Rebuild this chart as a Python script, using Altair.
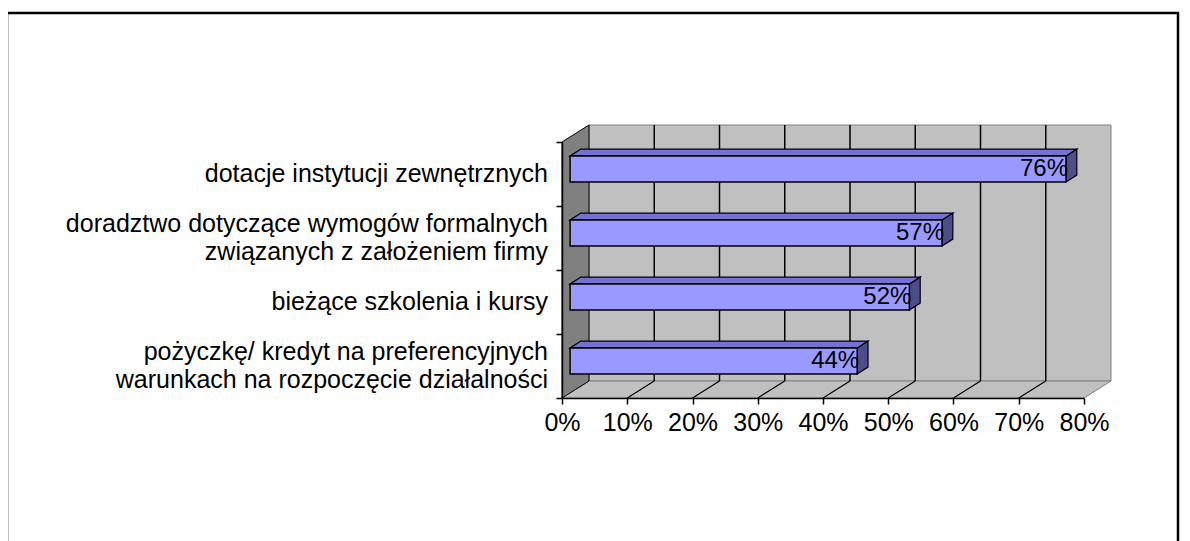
import altair as alt
import pandas as pd

# ---------------- data ----------------
categories = [
    "dotacje instytucji zewnętrznych",
    "doradztwo dotyczące wymogów formalnych\nzwiązanych z założeniem firmy" + "\u00a0" * 10,
    "bieżące szkolenia i kursy\u00a0",
    "pożyczkę/ kredyt na preferencyjnych\u00a0\nwarunkach na rozpoczęcie działalności",
]
values = [0.76, 0.57, 0.52, 0.44]
value_labels = ["76%", "57%", "52%", "44%"]
x_ticks = [0.0, 0.1, 0.2, 0.3, 0.4, 0.5, 0.6, 0.7, 0.8]
y_ticks = [0, 1, 2, 3, 4]

# ---------------- geometry (style constants) ----------------
W, H = 522, 256          # front plot area (px)
XMAX, N = 0.8, len(categories)
DX = 27 / W * XMAX       # depth shift in x data units
DY = 17 / H * N          # depth shift in y data units
F0, F1 = 0.3, 0.7        # bar front / back depth fraction
HALF = 13 / H * N        # half bar thickness (y units)
FONT = "Liberation Sans"
CAT_FS, CAT_LH = 25, 28  # category label font size / line height (px)

xs = alt.Scale(domain=[0, XMAX], nice=False, zero=False)
ys = alt.Scale(domain=[0, N], nice=False, zero=False)

x_axis = alt.Axis(
    values=x_ticks, format=".0%", title=None, grid=False, zindex=2,
    domainColor="black", domainWidth=1.5, tickColor="black", tickWidth=1.5, tickSize=6,
    labelFont=FONT, labelFontSize=25, labelColor="black", labelPadding=6,
    labelFlush=False, labelOverlap=False)
y_axis = alt.Axis(
    values=y_ticks, labels=False, title=None, grid=False, zindex=2,
    domainColor="black", domainWidth=1.5, tickColor="black", tickWidth=1.5, tickSize=6)

# bars
rows_front, rows_top, rows_side, rows_lab = [], [], [], []
for i, (c, v, lab) in enumerate(zip(categories, values, value_labels)):
    idx = N - 1 - i
    yc = idx + 0.5 + F0 * DY
    x0, x1 = F0 * DX, v + F0 * DX
    y0, y1 = yc - HALF, yc + HALF
    ddx, ddy = (F1 - F0) * DX, (F1 - F0) * DY
    nlines = c.count("\n") + 1
    ycat = idx + 0.5 + (nlines - 1) / 2 * CAT_LH / H * N   # centre the text block on the band
    rows_front.append(dict(b=i, x=x0, x2=x1, y=y0, y2=y1))
    rows_top.append(dict(b=i, y=y1, x=x0, x2=x1))
    rows_top.append(dict(b=i, y=y1 + ddy, x=x0 + ddx, x2=x1 + ddx))
    rows_side.append(dict(b=i, x=x1, y=y0, y2=y1))
    rows_side.append(dict(b=i, x=x1 + ddx, y=y0 + ddy, y2=y1 + ddy))
    rows_lab.append(dict(x=x1, y=yc, t=lab, cat=c, yb=ycat))

front = pd.DataFrame(rows_front)
top = pd.DataFrame(rows_top)
side = pd.DataFrame(rows_side)
labs = pd.DataFrame(rows_lab)


def X(field="x"):
    return alt.X(f"{field}:Q", scale=xs, axis=x_axis)


def Y(field="y"):
    return alt.Y(f"{field}:Q", scale=ys, axis=y_axis)


# frame
frame = alt.Chart(pd.DataFrame({"a": [0]})).mark_rect(
    fill="white", stroke="black", strokeWidth=2.5
).encode(x=alt.value(-555), x2=alt.value(616), y=alt.value(-129), y2=alt.value(420))

# back wall
back = alt.Chart(pd.DataFrame({"x": [DX], "x2": [XMAX + DX], "y": [DY], "y2": [N + DY]})).mark_rect(
    fill="#C0C0C0", stroke="#808080", strokeWidth=1
).encode(x=X(), x2="x2:Q", y=Y(), y2="y2:Q")

# floor
floor = alt.Chart(pd.DataFrame({"y": [0, DY], "x": [0, DX], "x2": [XMAX, XMAX + DX]})).mark_area(
    orient="horizontal", fill="#C0C0C0", stroke="#808080", strokeWidth=1
).encode(y=Y(), x=X(), x2="x2:Q")

# left wall
wall = alt.Chart(pd.DataFrame({"x": [0, DX], "y": [0, DY], "y2": [N, N + DY]})).mark_area(
    orient="vertical", fill="#808080", stroke="black", strokeWidth=1
).encode(x=X(), y=Y(), y2="y2:Q")

# back-wall gridlines
inner = x_ticks[1:-1]
gdf = pd.DataFrame({"x": [t + DX for t in inner], "y": [DY] * len(inner), "y2": [N + DY] * len(inner)})
grid = alt.Chart(gdf).mark_rule(color="black", strokeWidth=1.5).encode(x=X(), y=Y(), y2="y2:Q")

# floor diagonals
ddf = pd.DataFrame({"x": inner, "x2": [t + DX for t in inner],
                    "y": [0.0] * len(inner), "y2": [DY] * len(inner)})
diag = alt.Chart(ddf).mark_rule(color="black", strokeWidth=1.2).encode(
    x=X(), x2="x2:Q", y=Y(), y2="y2:Q")

# bars
side_l = alt.Chart(side).mark_area(orient="vertical", fill="#4D4D8A", stroke="black", strokeWidth=1.2).encode(
    x=X(), y=Y(), y2="y2:Q", detail="b:N")
top_l = alt.Chart(top).mark_area(orient="horizontal", fill="#7373D2", stroke="black", strokeWidth=1.2).encode(
    y=Y(), x=X(), x2="x2:Q", detail="b:N")
front_l = alt.Chart(front).mark_rect(fill="#9999FF", stroke="black", strokeWidth=1.5).encode(
    x=X(), x2="x2:Q", y=Y(), y2="y2:Q")

vlab = alt.Chart(labs).mark_text(align="right", baseline="middle", font=FONT, fontSize=24,
                                 color="black", dx=2).encode(x=X(), y=Y(), text="t:N")

clab = alt.Chart(labs).mark_text(align="right", baseline="middle", font=FONT, fontSize=CAT_FS,
                                 color="black", lineBreak="\n", lineHeight=CAT_LH).encode(
    x=alt.value(-14), y=Y("yb"), text="cat:N")

chart = alt.layer(frame, back, floor, wall, grid, diag, side_l, top_l, front_l, vlab, clab).properties(
    width=W, height=H,
    autosize="none",
    padding={"left": 554, "top": 134, "right": 98, "bottom": 143},
).configure_view(stroke=None).configure(background="white")

chart.save("out.html", embed_options={"renderer": "svg", "actions": False})
